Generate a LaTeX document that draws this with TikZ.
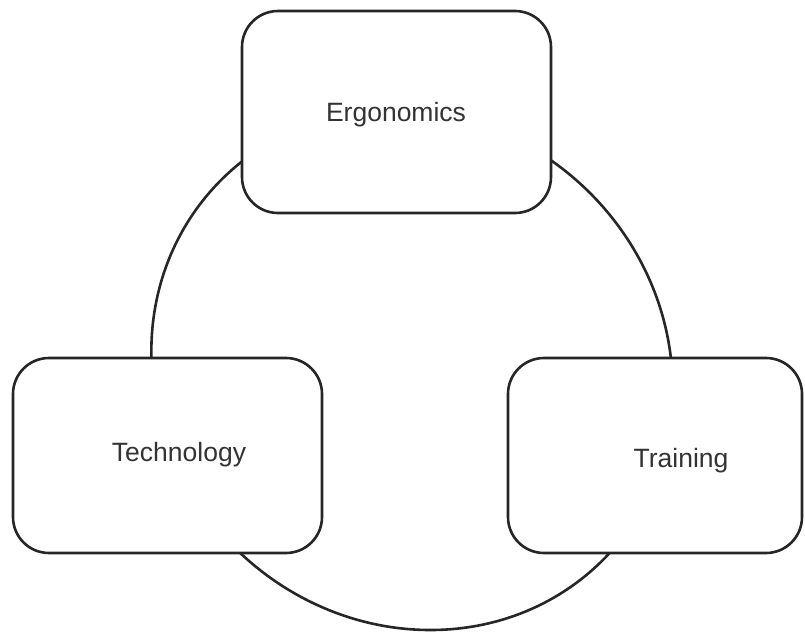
\documentclass[tikz,border=0pt]{standalone}
\usepackage{fontspec}
\setmainfont{Liberation Sans}
\usetikzlibrary{shapes.geometric}
\begin{document}
\begin{tikzpicture}[x=1pt,y=-1pt,
  ringstyle/.style={draw=black!85, line width=2.6pt},
  boxstyle/.style={draw=black!85, line width=2.6pt, rounded corners=36pt, fill=white, inner sep=0pt},
  lbl/.style={font=\fontsize{26.5}{31}\selectfont, text=black!80, inner sep=0pt}]
\useasboundingbox (0,0) rectangle (805,632);
\begin{scope}[shift={(412,370)}, xslant=-0.0705]
  \draw[ringstyle] (0,0) circle[radius=260pt];
\end{scope}
\node[boxstyle, minimum width=309pt, minimum height=202pt] (ergo) at (396.5,112) {};
\node[boxstyle, minimum width=309pt, minimum height=195pt] (tech) at (167.5,455.5) {};
\node[boxstyle, minimum width=294pt, minimum height=195pt] (train) at (655,455.5) {};
\node[lbl] (ergot) at (396,115) {Ergonomics};
\node[lbl] (techt) at (179,455) {Technology};
\node[lbl] (traint) at (681,461) {Training};
\end{tikzpicture}
\end{document}
